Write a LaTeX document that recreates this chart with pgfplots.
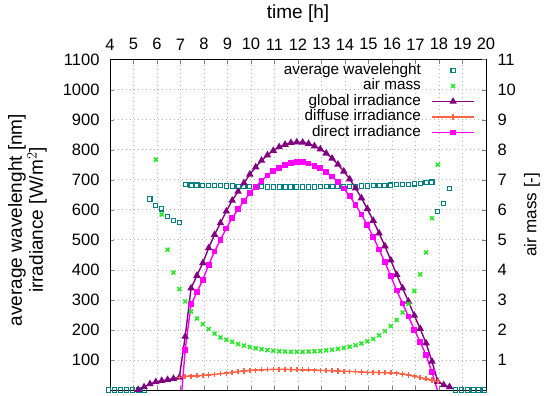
\documentclass[border=0pt]{standalone}
\usepackage{pgfplots}
\pgfplotsset{compat=1.18}
\usepackage{fontspec}
\setmainfont{Liberation Sans}
\definecolor{cteal}{RGB}{0,128,128}
\definecolor{cgreen}{RGB}{40,230,40}
\definecolor{cpurple}{RGB}{128,0,128}
\definecolor{ctomato}{RGB}{255,99,71}
\definecolor{cmag}{RGB}{255,0,255}
\pgfplotsset{
 wl/.style={only marks, mark=square, mark size=2.1pt, color=cteal, mark options={line width=1.1pt,solid}},
 am/.style={only marks, mark=x, mark size=2.8pt, color=cgreen, mark options={line width=1.5pt,solid}},
 gl/.style={color=cpurple, line width=1.4pt, mark=triangle*, mark size=3pt, mark options={solid}},
 df/.style={color=ctomato, line width=1.4pt, mark=+, mark size=2.6pt, mark options={solid}},
 dr/.style={color=cmag, line width=1.4pt, mark=square*, mark size=2.2pt, mark options={solid}},
 common/.style={at={(0,0)}, anchor=south west, scale only axis, width=376pt, height=330.4pt,
   xmin=4, xmax=20, clip=false, tick align=inside, major tick length=4pt,
   tick label style={font=\fontsize{16.5}{18}\selectfont},
   /pgf/number format/assume math mode=true, /pgf/number format/1000 sep={}},
}
\begin{document}
\begin{tikzpicture}
\begin{axis}[common,
 ymin=0, ymax=1100,
 xtick={4,...,20}, ytick={100,200,...,1100},
 xticklabel pos=upper, xtick pos=both, ytick pos=left,
 xticklabel style={yshift=6pt},
 yticklabel style={xshift=-7pt},
 grid=major, grid style={gray!60, dash pattern=on 1.2pt off 2.8pt, line width=0.7pt},
 xlabel={time [h]},
 xlabel style={at={(axis description cs:0.5,1.138)}, anchor=center, font=\fontsize{19}{22}\selectfont},
 ylabel={average wavelenght [nm]\\irradiance [W/m$^2$]},
 ylabel style={at={(axis description cs:-0.2194,0.5145)}, anchor=center, align=center, font=\fontsize{19}{21}\selectfont},
]
\addplot[wl] coordinates {(3.95,0)(4.2,0)(4.45,0)(4.7,0)(4.95,0)(5.2,0)(5.45,0)(5.7,636)(5.95,615)(6.2,603)(6.45,578)(6.7,565)(6.95,558)(7.2,683)(7.45,682)(7.7,682)(7.95,681)(8.2,681)(8.45,680)(8.7,680)(8.95,679)(9.2,679)(9.45,678)(9.7,678)(9.95,677)(10.2,677)(10.45,677)(10.7,676)(10.95,676)(11.2,676)(11.45,676)(11.7,676)(11.95,676)(12.2,676)(12.45,676)(12.7,676)(12.95,677)(13.2,677)(13.45,677)(13.7,677)(13.95,678)(14.2,678)(14.45,678)(14.7,679)(14.95,679)(15.2,680)(15.45,680)(15.7,681)(15.95,682)(16.2,683)(16.45,684)(16.7,685)(16.95,686)(17.2,688)(17.45,690)(17.7,692)(17.95,594)(18.2,620)(18.45,670)(18.7,0)(18.95,0)(19.2,0)(19.45,0)(19.7,0)(19.95,0)};
\addplot[gl] coordinates {(5.2,1)(5.45,10)(5.7,20)(5.95,27)(6.2,31)(6.45,34)(6.7,38)(6.95,42)(7.2,178)(7.45,339)(7.7,381)(7.95,423)(8.2,473)(8.45,517)(8.7,556)(8.95,595)(9.2,631)(9.45,661)(9.7,689)(9.95,718)(10.2,742)(10.45,764)(10.7,782)(10.95,797)(11.2,809)(11.45,817)(11.7,823)(11.95,825)(12.2,824)(12.45,820)(12.7,812)(12.95,802)(13.2,788)(13.45,771)(13.7,751)(13.95,728)(14.2,702)(14.45,672)(14.7,639)(14.95,603)(15.2,564)(15.45,522)(15.7,479)(15.95,432)(16.2,384)(16.45,339)(16.7,295)(16.95,248)(17.2,204)(17.45,156)(17.7,95)(17.95,28)(18.2,17)(18.45,10)};
\addplot[df] coordinates {(6.95,42)(7.2,45)(7.45,46)(7.7,47)(7.95,49)(8.2,50)(8.45,52)(8.7,54)(8.95,56)(9.2,59)(9.45,61)(9.7,63)(9.95,65)(10.2,66)(10.45,67)(10.7,68)(10.95,69)(11.2,69)(11.45,69)(11.7,68)(11.95,68)(12.2,67)(12.45,67)(12.7,66)(12.95,65)(13.2,65)(13.45,64)(13.7,63)(13.95,62)(14.2,62)(14.45,61)(14.7,60)(14.95,59)(15.2,59)(15.45,58)(15.7,58)(15.95,57)(16.2,56)(16.45,53)(16.7,50)(16.95,46)(17.2,41)(17.45,37)(17.7,33)(17.95,28)};
\addplot[dr, mark=none] coordinates {(7.06,0)(7.2,133)(7.45,285)(7.7,326)(7.95,367)(8.2,417)(8.45,461)(8.7,500)(8.95,538)(9.2,573)(9.45,602)(9.7,629)(9.95,655)(10.2,677)(10.45,697)(10.7,714)(10.95,728)(11.2,740)(11.45,749)(11.7,756)(11.95,758)(12.2,758)(12.45,754)(12.7,747)(12.95,739)(13.2,726)(13.45,711)(13.7,692)(13.95,671)(14.2,646)(14.45,616)(14.7,584)(14.95,549)(15.2,510)(15.45,468)(15.7,425)(15.95,379)(16.2,331)(16.45,288)(16.7,245)(16.95,201)(17.2,160)(17.45,116)(17.7,60)(17.93,0)};
\addplot[dr, only marks] coordinates {(7.2,133)(7.45,285)(7.7,326)(7.95,367)(8.2,417)(8.45,461)(8.7,500)(8.95,538)(9.2,573)(9.45,602)(9.7,629)(9.95,655)(10.2,677)(10.45,697)(10.7,714)(10.95,728)(11.2,740)(11.45,749)(11.7,756)(11.95,758)(12.2,758)(12.45,754)(12.7,747)(12.95,739)(13.2,726)(13.45,711)(13.7,692)(13.95,671)(14.2,646)(14.45,616)(14.7,584)(14.95,549)(15.2,510)(15.45,468)(15.7,425)(15.95,379)(16.2,331)(16.45,288)(16.7,245)(16.95,201)(17.2,160)(17.45,116)(17.7,60)};
\end{axis}
\begin{axis}[common,
 ymin=0, ymax=11, ytick={1,...,11},
 axis x line=none, axis y line*=right,
 yticklabel style={xshift=8pt},
 ylabel={air mass [-]},
 ylabel style={at={(axis description cs:1.122,0.53)}, anchor=center, rotate=0, font=\fontsize{17}{20}\selectfont},
 legend plot pos=right,
 legend cell align=right,
 legend image code/.code={\draw[mark repeat=2,mark phase=2,#1] plot coordinates {(0pt,0pt) (21pt,0pt) (42pt,0pt)};},
 legend style={at={(axis description cs:1,1)}, anchor=north east, xshift=-11pt, yshift=-3pt,
   draw=none, fill=none, inner sep=0pt, row sep=0pt, column sep=10pt,
   font=\fontsize{15.3}{17}\selectfont,
   nodes={inner sep=0.5pt, text height=11pt, text depth=3.5pt}},
]
\addlegendimage{wl}
\addplot[am] coordinates {(5.95,7.67)(6.2,5.84)(6.45,4.67)(6.7,3.91)(6.95,3.36)(7.2,2.95)(7.45,2.61)(7.7,2.38)(7.95,2.19)(8.2,2.03)(8.45,1.88)(8.7,1.75)(8.95,1.67)(9.2,1.60)(9.45,1.53)(9.7,1.48)(9.95,1.43)(10.2,1.39)(10.45,1.36)(10.7,1.33)(10.95,1.31)(11.2,1.29)(11.45,1.28)(11.7,1.27)(11.95,1.27)(12.2,1.27)(12.45,1.28)(12.7,1.29)(12.95,1.30)(13.2,1.32)(13.45,1.34)(13.7,1.37)(13.95,1.40)(14.2,1.44)(14.45,1.49)(14.7,1.55)(14.95,1.62)(15.2,1.70)(15.45,1.82)(15.7,1.96)(15.95,2.13)(16.2,2.33)(16.45,2.58)(16.7,2.87)(16.95,3.30)(17.2,3.85)(17.45,4.58)(17.7,5.72)(17.95,7.50)};
\addlegendimage{gl}
\addlegendimage{df}
\addlegendimage{dr}
\legend{average wavelenght, air mass, global irradiance, diffuse irradiance, direct irradiance}
\end{axis}
\pgfresetboundingbox
\path (-110pt,-6pt) rectangle (434pt,390pt);
\end{tikzpicture}
\end{document}
